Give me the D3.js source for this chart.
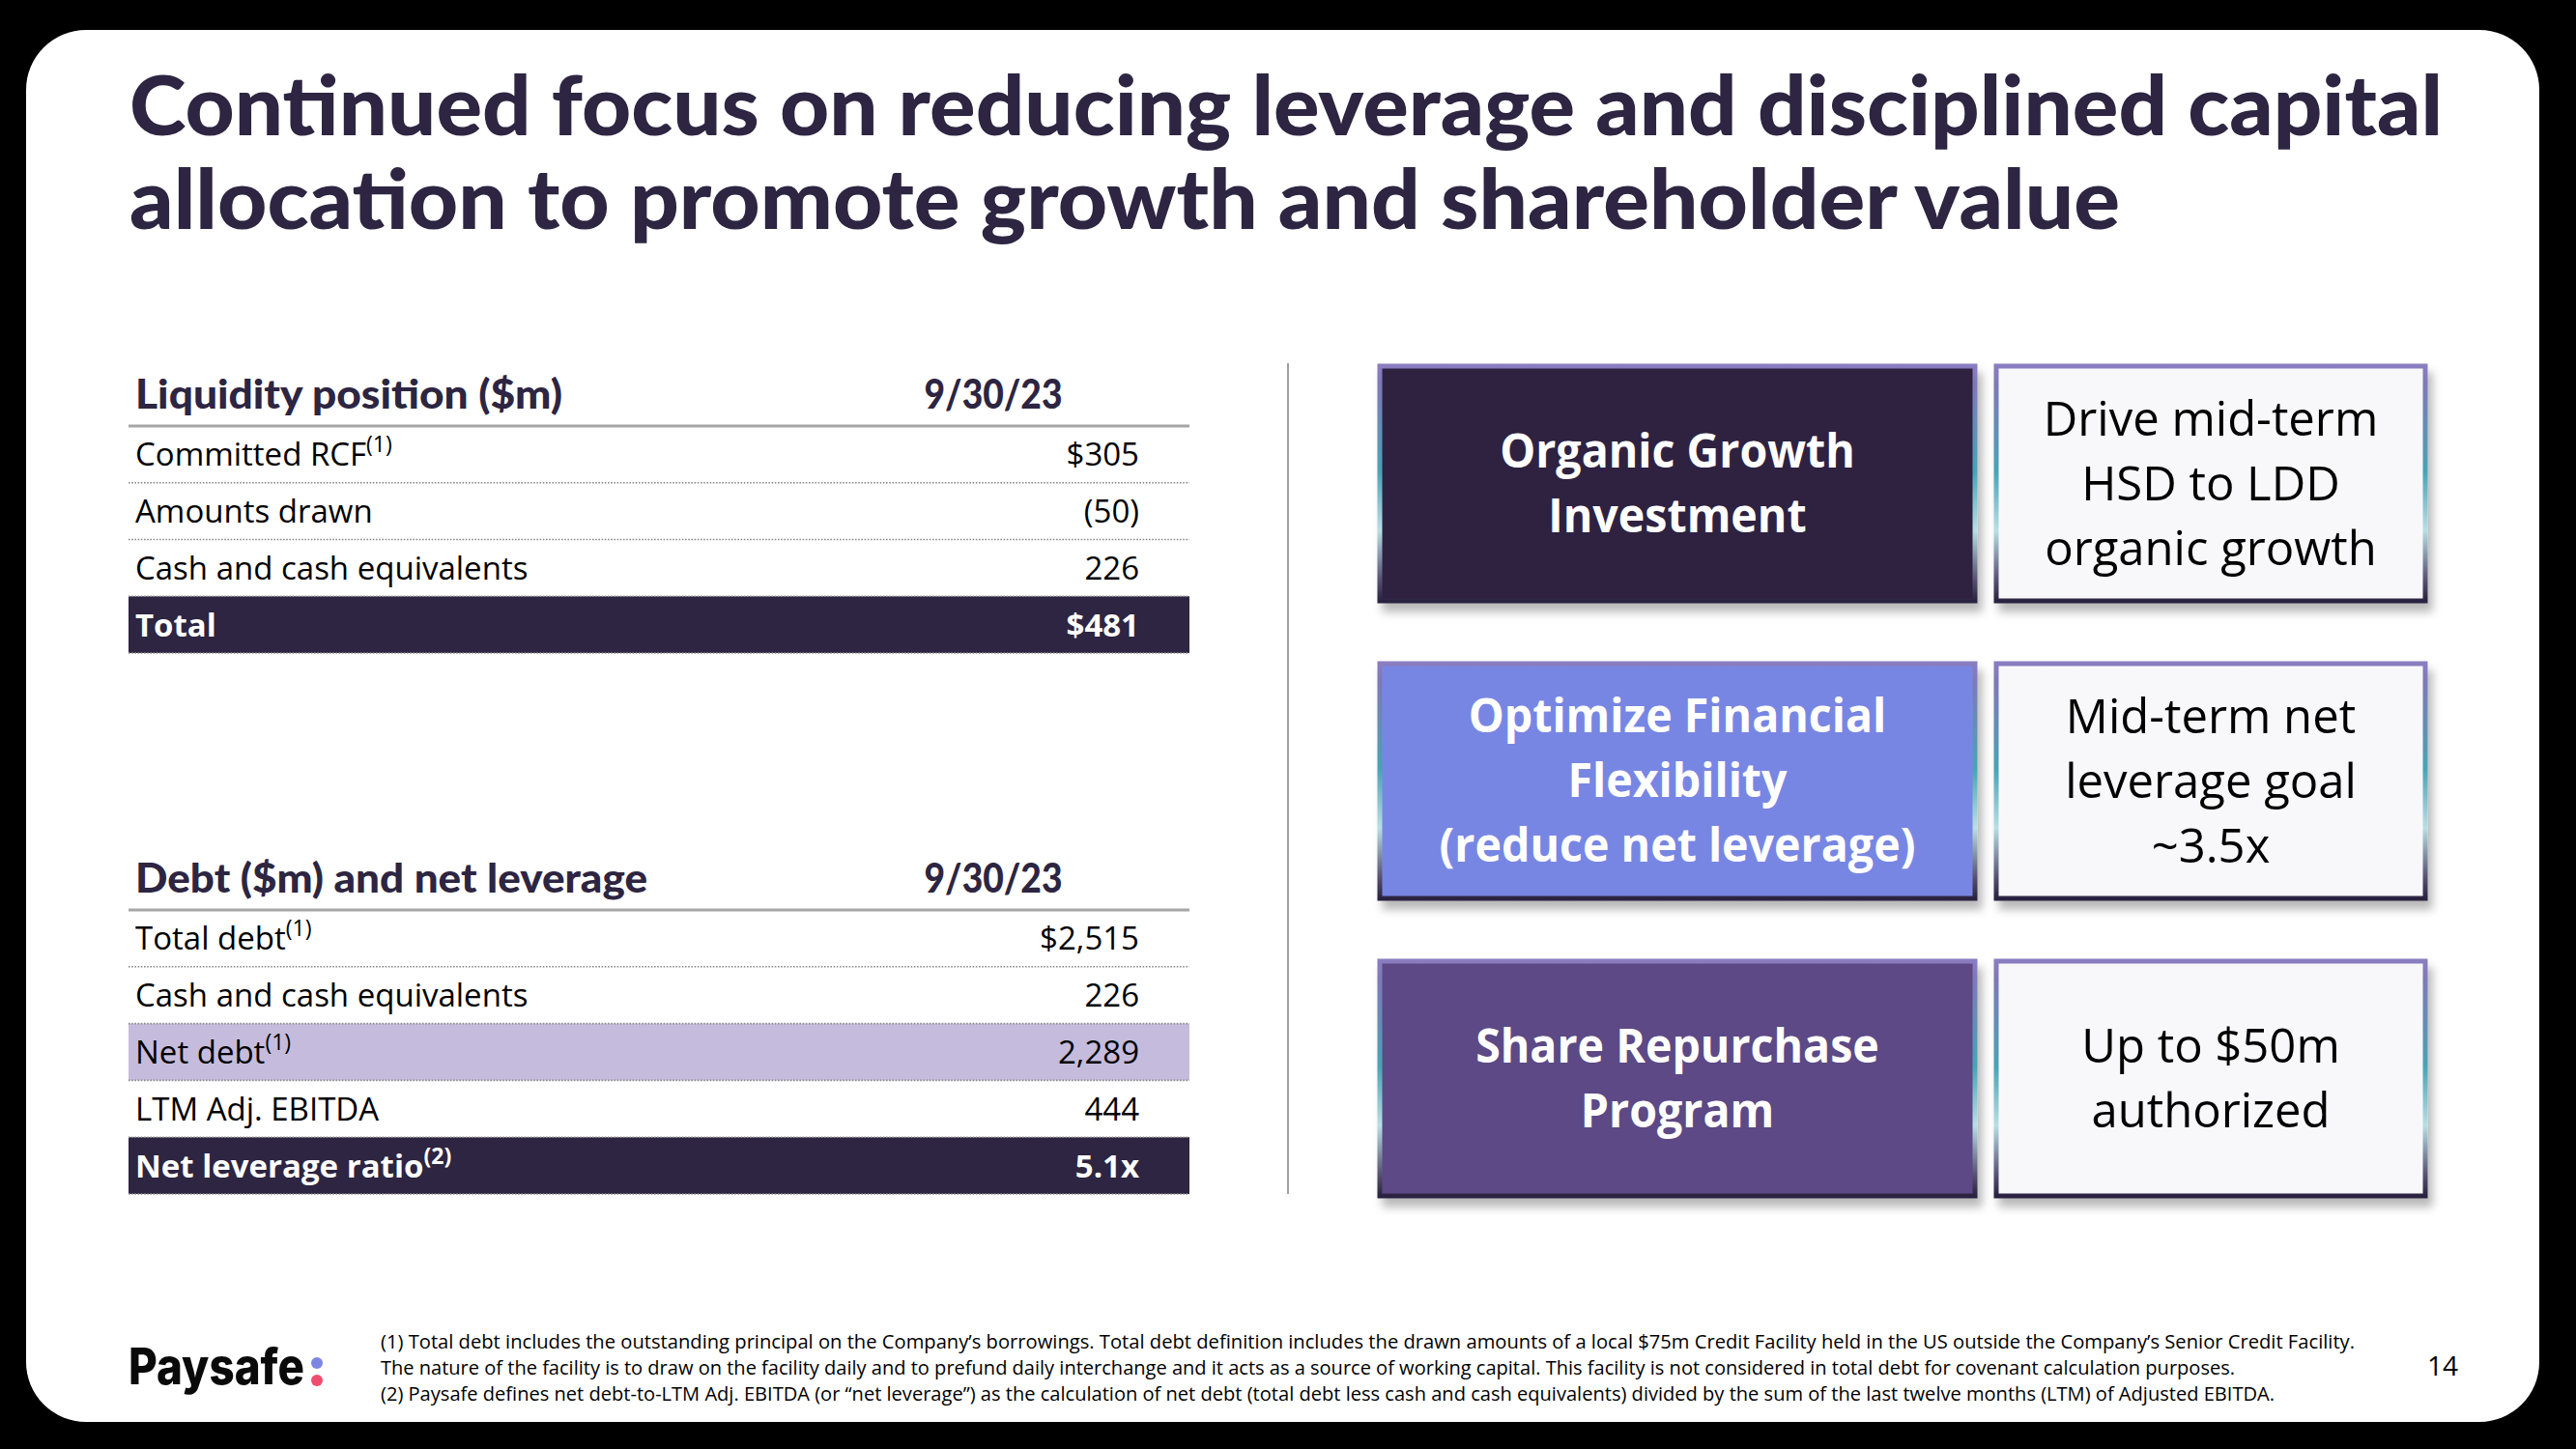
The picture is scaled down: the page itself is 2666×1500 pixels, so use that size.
<!DOCTYPE html>
<html><head><meta charset="utf-8">
<script src="https://cdn.jsdelivr.net/npm/d3@7"></script>
<style>
html,body{margin:0;padding:0;background:#000;}
svg{display:block;}
</style></head>
<body>
<svg id="chart" width="2666" height="1500"></svg>
<script>
// ---------- DATA ----------
const titleLines = ["Continued focus on reducing leverage and disciplined capital",
                    "allocation to promote growth and shareholder value"];
const dateLabel = "9/30/23";
const liquidityHeader = "Liquidity position ($m)";
const liquidityLabels = ["Committed RCF", "Amounts drawn", "Cash and cash equivalents", "Total"];
const liquidityNotes  = ["(1)", "", "", ""];
const liquidityValues = ["$305", "(50)", "226", "$481"];
const liquidityStyles = ["plain", "plain", "plain", "dark"];
const debtHeader = "Debt ($m) and net leverage";
const debtLabels = ["Total debt", "Cash and cash equivalents", "Net debt", "LTM Adj. EBITDA", "Net leverage ratio"];
const debtNotes  = ["(1)", "", "(1)", "", "(2)"];
const debtValues = ["$2,515", "226", "2,289", "444", "5.1x"];
const debtStyles = ["plain", "plain", "light", "plain", "dark"];
const pillarNames = [["Organic Growth", "Investment"],
                     ["Optimize Financial", "Flexibility", "(reduce net leverage)"],
                     ["Share Repurchase", "Program"]];
const pillarTargets = [["Drive mid-term", "HSD to LDD", "organic growth"],
                       ["Mid-term net", "leverage goal", "~3.5x"],
                       ["Up to $50m", "authorized"]];
const pillarColors = ["#2e2441", "#7886e3", "#5b4885"];
const footnotes = [
  "(1) Total debt includes the outstanding principal on the Company\u2019s borrowings. Total debt definition includes the drawn amounts of a local $75m Credit Facility held in the US outside the Company\u2019s Senior Credit Facility.",
  "The nature of the facility is to draw on the facility daily and to prefund daily interchange and it acts as a source of working capital.  This facility is not considered in total debt for covenant calculation purposes.",
  "(2) Paysafe defines net debt-to-LTM Adj. EBITDA (or \u201cnet leverage\u201d) as the calculation of net debt (total debt less cash and cash equivalents) divided by the sum of the last twelve months (LTM) of Adjusted EBITDA."
];
const pageNumber = "14";
const brandName = "Paysafe";

// ---------- STYLE ----------
const DARK = "#2d2541";
const LAV = "#c5bcdd";
const BODY_FONT = "'Open Sans', 'Noto Sans', sans-serif";
const TITLE_FONT = "Lato, 'Open Sans', sans-serif";

const svg = d3.select("#chart");
const defs = svg.append("defs");
const f = defs.append("filter").attr("id", "shadow").attr("x", "-10%").attr("y", "-10%").attr("width", "130%").attr("height", "130%");
f.append("feDropShadow").attr("dx", 5).attr("dy", 9).attr("stdDeviation", 5).attr("flood-color", "#000").attr("flood-opacity", 0.28);
const grad = defs.append("linearGradient").attr("id", "edge").attr("x1", 0).attr("y1", 0).attr("x2", 0).attr("y2", 1);
[["0%", "#8a7dc0"], ["8%", "#7d79b8"], ["45%", "#4aa3b6"], ["70%", "#b8dfe6"], ["90%", "#5b5878"], ["100%", "#2a2340"]]
  .forEach(([o, c]) => grad.append("stop").attr("offset", o).attr("stop-color", c));

// background card
svg.append("rect").attr("width", 2666).attr("height", 1500).attr("fill", "#000");
svg.append("rect").attr("x", 27).attr("y", 31).attr("width", 2601).attr("height", 1441)
  .attr("rx", 62).attr("ry", 62).attr("fill", "#fff");

// title
const titleWidths = [2394, 2060];
svg.selectAll("text.title").data(titleLines).join("text")
  .attr("class", "title")
  .attr("x", 134).attr("y", (d, i) => 140 + i * 97)
  .attr("font-family", TITLE_FONT).attr("font-weight", 900).attr("font-size", 86)
  .attr("fill", DARK)
  .attr("textLength", (d, i) => titleWidths[i]).attr("lengthAdjust", "spacingAndGlyphs")
  .text(d => d);

// ---------- TABLES ----------
const tableX0 = 133, tableX1 = 1231, labelX = 140, valueX = 1179, dateX = 1028;
function drawTable(header, headerW, labels, notes, values, styles, lineY, bottomY) {
  const g = svg.append("g");
  const y = d3.scaleBand().domain(d3.range(labels.length)).range([lineY, bottomY]).padding(0);
  g.append("text").attr("x", labelX).attr("y", lineY - 18)
    .attr("font-family", TITLE_FONT).attr("font-weight", 900).attr("font-size", 42).attr("fill", DARK)
    .attr("textLength", headerW).attr("lengthAdjust", "spacingAndGlyphs")
    .text(header);
  g.append("text").attr("x", dateX).attr("y", lineY - 18).attr("text-anchor", "middle")
    .attr("font-family", TITLE_FONT).attr("font-weight", 900).attr("font-size", 42).attr("fill", DARK)
    .attr("textLength", 143).attr("lengthAdjust", "spacingAndGlyphs")
    .text(dateLabel);
  // bands
  g.selectAll("rect.band").data(d3.range(labels.length).filter(i => styles[i] !== "plain")).join("rect")
    .attr("x", tableX0).attr("width", tableX1 - tableX0)
    .attr("y", i => y(i)).attr("height", y.bandwidth())
    .attr("fill", i => styles[i] === "dark" ? DARK : LAV);
  // dotted separators
  g.selectAll("line.sep").data(d3.range(1, labels.length + 1)).join("line")
    .attr("x1", tableX0).attr("x2", tableX1)
    .attr("y1", i => i < labels.length ? y(i) : bottomY)
    .attr("y2", i => i < labels.length ? y(i) : bottomY)
    .attr("stroke", "#8a8a8a").attr("stroke-width", 1.6).attr("stroke-dasharray", "1.6,1.6");
  // header line
  g.append("line").attr("x1", tableX0).attr("x2", tableX1).attr("y1", lineY).attr("y2", lineY)
    .attr("stroke", "#a6a6a6").attr("stroke-width", 3);
  // labels
  const lt = g.selectAll("text.lbl").data(labels).join("text")
    .attr("x", labelX).attr("y", (d, i) => y(i) + y.bandwidth() / 2 + 12)
    .attr("font-family", BODY_FONT).attr("font-size", 33)
    .attr("font-weight", (d, i) => styles[i] === "dark" ? 700 : 400)
    .attr("fill", (d, i) => styles[i] === "dark" ? "#fff" : "#000");
  lt.append("tspan").text(d => d);
  lt.append("tspan").attr("dy", -14).attr("font-size", 23).text((d, i) => notes[i]);
  g.selectAll("text.val").data(values).join("text")
    .attr("x", valueX).attr("y", (d, i) => y(i) + y.bandwidth() / 2 + 12)
    .attr("text-anchor", "end")
    .attr("font-family", BODY_FONT).attr("font-size", 33)
    .attr("font-weight", (d, i) => styles[i] === "dark" ? 700 : 400)
    .attr("fill", (d, i) => styles[i] === "dark" ? "#fff" : "#000")
    .text(d => d);
}
drawTable(liquidityHeader, 442, liquidityLabels, liquidityNotes, liquidityValues, liquidityStyles, 441, 676);
drawTable(debtHeader, 530, debtLabels, debtNotes, debtValues, debtStyles, 942, 1236);

// separator
svg.append("line").attr("x1", 1333).attr("x2", 1333).attr("y1", 376).attr("y2", 1236)
  .attr("stroke", "#a0a0a0").attr("stroke-width", 2);

// ---------- PILLARS ----------
const rowY = d3.scaleBand().domain(d3.range(pillarNames.length)).range([379, 1238]).paddingInner(0.211).paddingOuter(0);
const colX = d3.scaleOrdinal().domain(["name", "target"]).range([1428, 2066]);
const colW = {name: 616, target: 444};
const lineGap = 67;
pillarNames.forEach((lines, i) => {
  const y0 = rowY(i), h = rowY.bandwidth();
  ["name", "target"].forEach(k => {
    const g = svg.append("g");
    g.append("rect").attr("x", colX(k)).attr("y", y0).attr("width", colW[k]).attr("height", h)
      .attr("fill", k === "name" ? pillarColors[i] : "#f8f8fa")
      .attr("stroke", "url(#edge)").attr("stroke-width", 5)
      .attr("filter", "url(#shadow)");
    const txt = k === "name" ? lines : pillarTargets[i];
    const cx = colX(k) + colW[k] / 2;
    const cy = y0 + h / 2;
    const first = cy - (txt.length - 1) * lineGap / 2 + 17;
    g.selectAll("text").data(txt).join("text")
      .attr("x", cx).attr("y", (d, j) => first + j * lineGap)
      .attr("text-anchor", "middle")
      .attr("font-family", BODY_FONT)
      .attr("font-size", k === "name" ? 48 : 49)
      .attr("font-weight", k === "name" ? 700 : 400)
      .attr("fill", k === "name" ? "#fff" : "#000")
      .attr("transform", `translate(${cx},0) scale(${k === "name" ? 0.97 : 1},1) translate(${-cx},0)`)
      .text(d => d);
  });
});

// ---------- FOOTER ----------
const footWidths = [2043, 1919, 1960];
svg.selectAll("text.foot").data(footnotes).join("text")
  .attr("class", "foot")
  .attr("x", 394).attr("y", (d, i) => 1396 + i * 27)
  .attr("font-family", BODY_FONT).attr("font-size", 20).attr("fill", "#000")
  .attr("textLength", (d, i) => footWidths[i]).attr("lengthAdjust", "spacingAndGlyphs")
  .text(d => d);
svg.append("text").attr("x", 2528).attr("y", 1424).attr("text-anchor", "middle")
  .attr("font-family", BODY_FONT).attr("font-size", 28).attr("fill", "#000")
  .text(pageNumber);
svg.append("text").attr("x", 133).attr("y", 1433)
  .attr("font-family", "Inter, 'Open Sans', sans-serif").attr("font-weight", 800).attr("font-size", 52)
  .attr("fill", "#0a0a0a").attr("textLength", 182).attr("lengthAdjust", "spacingAndGlyphs")
  .text(brandName);
svg.append("circle").attr("cx", 328).attr("cy", 1411).attr("r", 6).attr("fill", "#7e86e4");
svg.append("circle").attr("cx", 328).attr("cy", 1429).attr("r", 6).attr("fill", "#f04d6e");
</script>
</body></html>
